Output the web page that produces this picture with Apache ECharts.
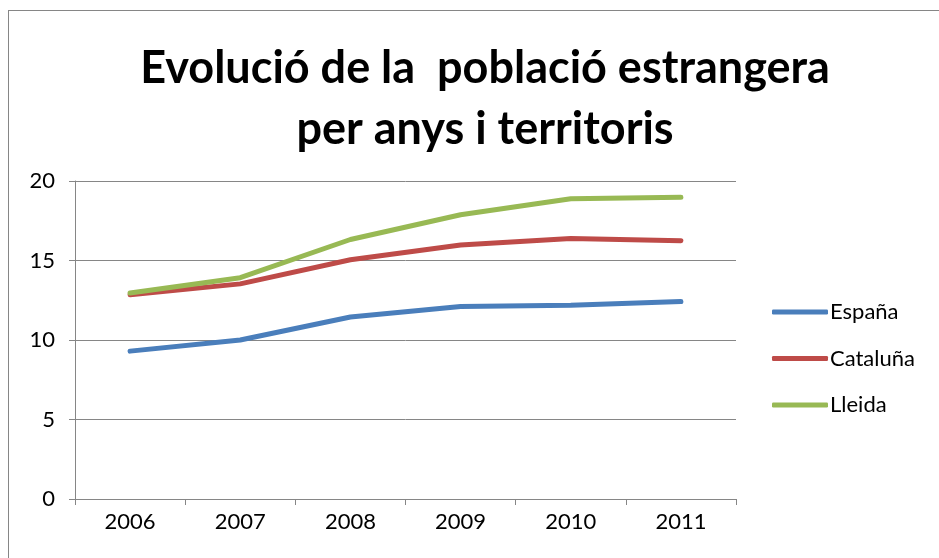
<!DOCTYPE html>
<html><head><meta charset="utf-8">
<script src="https://cdn.jsdelivr.net/npm/echarts@6/dist/echarts.min.js"></script>
<style>html,body{margin:0;padding:0;background:#fff}#c{width:939px;height:558px}
#frame{position:absolute;left:8px;top:10px;width:1000px;height:600px;border:1px solid #868686;pointer-events:none}</style>
</head><body><div id="c"></div><div id="frame"></div>
<script>
const years = ['2006','2007','2008','2009','2010','2011'];
const espana = [9.3, 10.0, 11.45, 12.1, 12.18, 12.42];
const cataluna = [12.85, 13.53, 15.05, 15.97, 16.38, 16.24];
const lleida = [12.95, 13.92, 16.32, 17.88, 18.88, 18.98];
const seriesNames = ['España','Cataluña','Lleida'];
const colors = ['#4A7EBB','#BE4B48','#98B954'];
const font = 'Lato, "Open Sans", sans-serif';
const chart = echarts.init(document.getElementById('c'));
chart.setOption({
  animation:false,
  color: colors,
  title:{text:'Evolució de la  població estrangera\nper anys i territoris',left:480,textAlign:'center',top:33,
    textStyle:{fontFamily:font,fontWeight:'bold',fontSize:45,lineHeight:61,color:'#000'}},
  legend:{orient:'vertical',left:767,top:296,itemWidth:56,itemHeight:5,itemGap:24.5,
    textStyle:{fontFamily:font,fontSize:22,color:'#000',padding:[0,0,0,-3]},
    icon:'roundRect',data:seriesNames},
  grid:{left:75,top:181,right:203,bottom:59},
  xAxis:{type:'category',data:years,boundaryGap:true,
    axisLine:{lineStyle:{color:'#868686',width:1}},
    axisTick:{show:true,length:6,lineStyle:{color:'#868686'}},
    axisLabel:{fontFamily:font,fontSize:22,color:'#000',margin:12}},
  yAxis:{type:'value',min:0,max:20,interval:5,
    axisLine:{show:true,lineStyle:{color:'#868686'}},
    axisTick:{show:true,length:6,lineStyle:{color:'#868686'}},
    splitLine:{lineStyle:{color:'#868686'}},
    axisLabel:{fontFamily:font,fontSize:22,color:'#000',margin:20}},
  series:[
    {name:seriesNames[0],type:'line',data:espana,symbol:'none',lineStyle:{width:5,cap:'round',join:'round'}},
    {name:seriesNames[1],type:'line',data:cataluna,symbol:'none',lineStyle:{width:5,cap:'round',join:'round'}},
    {name:seriesNames[2],type:'line',data:lleida,symbol:'none',lineStyle:{width:5,cap:'round',join:'round'}}
  ]
});
</script></body></html>
